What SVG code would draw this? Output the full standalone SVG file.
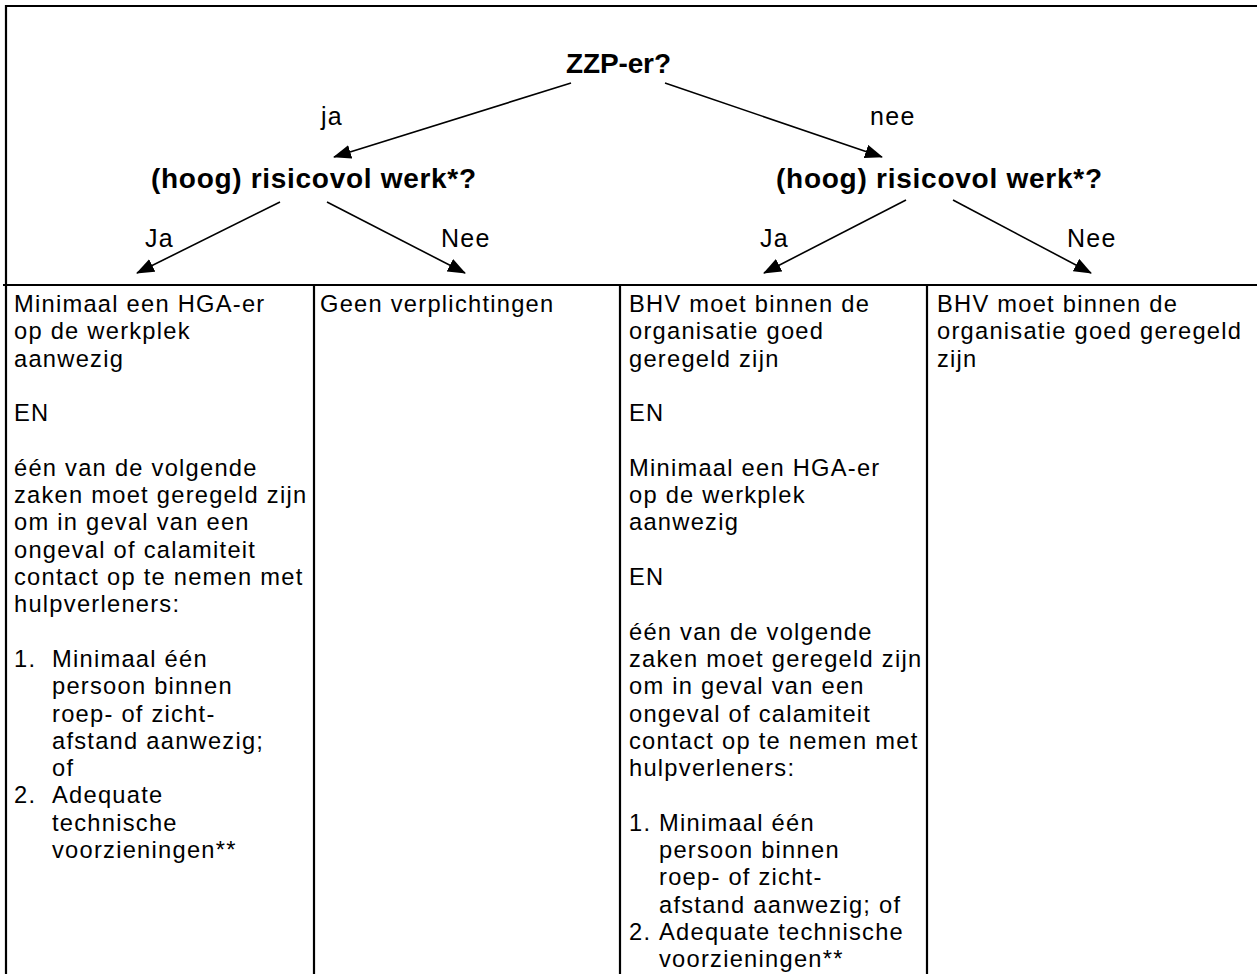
<svg xmlns="http://www.w3.org/2000/svg" width="1257" height="974" viewBox="0 0 1257 974">
<style>
.t{font-family:"Liberation Sans",Arial,sans-serif;fill:#000}
.b{font-weight:bold;font-size:28px}
.body{font-size:23.7px;letter-spacing:1.25px}
.lbl{font-size:25px;letter-spacing:1.3px}
.frame{stroke:#000;stroke-width:2.2;fill:none}
.conn{stroke:#000;stroke-width:1.6;fill:none;marker-end:url(#ah)}
</style>
<defs>
<marker id="ah" viewBox="0 0 18 14" refX="17" refY="7" markerWidth="18" markerHeight="14" markerUnits="userSpaceOnUse" orient="auto">
<path d="M0,0 L18,7 L0,14 z" fill="#000"/>
</marker>
</defs>
<rect width="1257" height="974" fill="#fff"/>
<g id="frame">
<line class="frame" x1="5" y1="6" x2="1257" y2="6"/>
<line class="frame" x1="6" y1="5" x2="6" y2="974"/>
<line class="frame" x1="3" y1="285" x2="1257" y2="285"/>
<line class="frame" x1="314" y1="285" x2="314" y2="974"/>
<line class="frame" x1="620" y1="285" x2="620" y2="974"/>
<line class="frame" x1="927" y1="285" x2="927" y2="974"/>
</g>
<g id="connectors">
<line class="conn" x1="571" y1="83" x2="334" y2="157"/>
<line class="conn" x1="665" y1="83" x2="882" y2="157"/>
<line class="conn" x1="280" y1="202" x2="137" y2="273"/>
<line class="conn" x1="327" y1="202" x2="465" y2="273"/>
<line class="conn" x1="906" y1="200" x2="764" y2="273"/>
<line class="conn" x1="953" y1="200" x2="1091" y2="273"/>
</g>
<g id="edge-labels">
<text class="t lbl" x="321" y="125">ja</text>
<text class="t lbl" x="870" y="125">nee</text>
<text class="t lbl" x="145" y="247">Ja</text>
<text class="t lbl" x="441" y="247">Nee</text>
<text class="t lbl" x="760" y="247">Ja</text>
<text class="t lbl" x="1067" y="247">Nee</text>
</g>
<g id="node-zzp">
<text class="t b" x="566" y="73" textLength="105" lengthAdjust="spacing">ZZP-er?</text>
</g>
<g id="node-risk-left">
<text class="t b" x="151" y="188" textLength="325" lengthAdjust="spacing">(hoog) risicovol werk*?</text>
</g>
<g id="node-risk-right">
<text class="t b" x="776" y="188" textLength="326" lengthAdjust="spacing">(hoog) risicovol werk*?</text>
</g>
<g id="col1" class="t body">
<text x="14" y="312">Minimaal een HGA-er</text>
<text x="14" y="339.3">op de werkplek</text>
<text x="14" y="366.6">aanwezig</text>
<text x="14" y="421.2">EN</text>
<text x="14" y="475.8">één van de volgende</text>
<text x="14" y="503.1">zaken moet geregeld zijn</text>
<text x="14" y="530.4">om in geval van een</text>
<text x="14" y="557.7">ongeval of calamiteit</text>
<text x="14" y="585">contact op te nemen met</text>
<text x="14" y="612.3">hulpverleners:</text>
<text x="14" y="666.9">1.</text>
<text x="52" y="666.9">Minimaal één</text>
<text x="52" y="694.2">persoon binnen</text>
<text x="52" y="721.5">roep- of zicht-</text>
<text x="52" y="748.8">afstand aanwezig;</text>
<text x="52" y="776.1">of</text>
<text x="14" y="803.4">2.</text>
<text x="52" y="803.4">Adequate</text>
<text x="52" y="830.7">technische</text>
<text x="52" y="858">voorzieningen**</text>
</g>
<g id="col2" class="t body">
<text x="320" y="312">Geen verplichtingen</text>
</g>
<g id="col3" class="t body">
<text x="629" y="312">BHV moet binnen de</text>
<text x="629" y="339.3">organisatie goed</text>
<text x="629" y="366.6">geregeld zijn</text>
<text x="629" y="421.2">EN</text>
<text x="629" y="475.8">Minimaal een HGA-er</text>
<text x="629" y="503.1">op de werkplek</text>
<text x="629" y="530.4">aanwezig</text>
<text x="629" y="585">EN</text>
<text x="629" y="639.6">één van de volgende</text>
<text x="629" y="666.9">zaken moet geregeld zijn</text>
<text x="629" y="694.2">om in geval van een</text>
<text x="629" y="721.5">ongeval of calamiteit</text>
<text x="629" y="748.8">contact op te nemen met</text>
<text x="629" y="776.1">hulpverleners:</text>
<text x="629" y="830.7">1.</text>
<text x="659" y="830.7">Minimaal één</text>
<text x="659" y="858">persoon binnen</text>
<text x="659" y="885.3">roep- of zicht-</text>
<text x="659" y="912.6">afstand aanwezig; of</text>
<text x="629" y="939.9">2.</text>
<text x="659" y="939.9">Adequate technische</text>
<text x="659" y="967.2">voorzieningen**</text>
</g>
<g id="col4" class="t body">
<text x="937" y="312">BHV moet binnen de</text>
<text x="937" y="339.3">organisatie goed geregeld</text>
<text x="937" y="366.6">zijn</text>
</g>
</svg>
